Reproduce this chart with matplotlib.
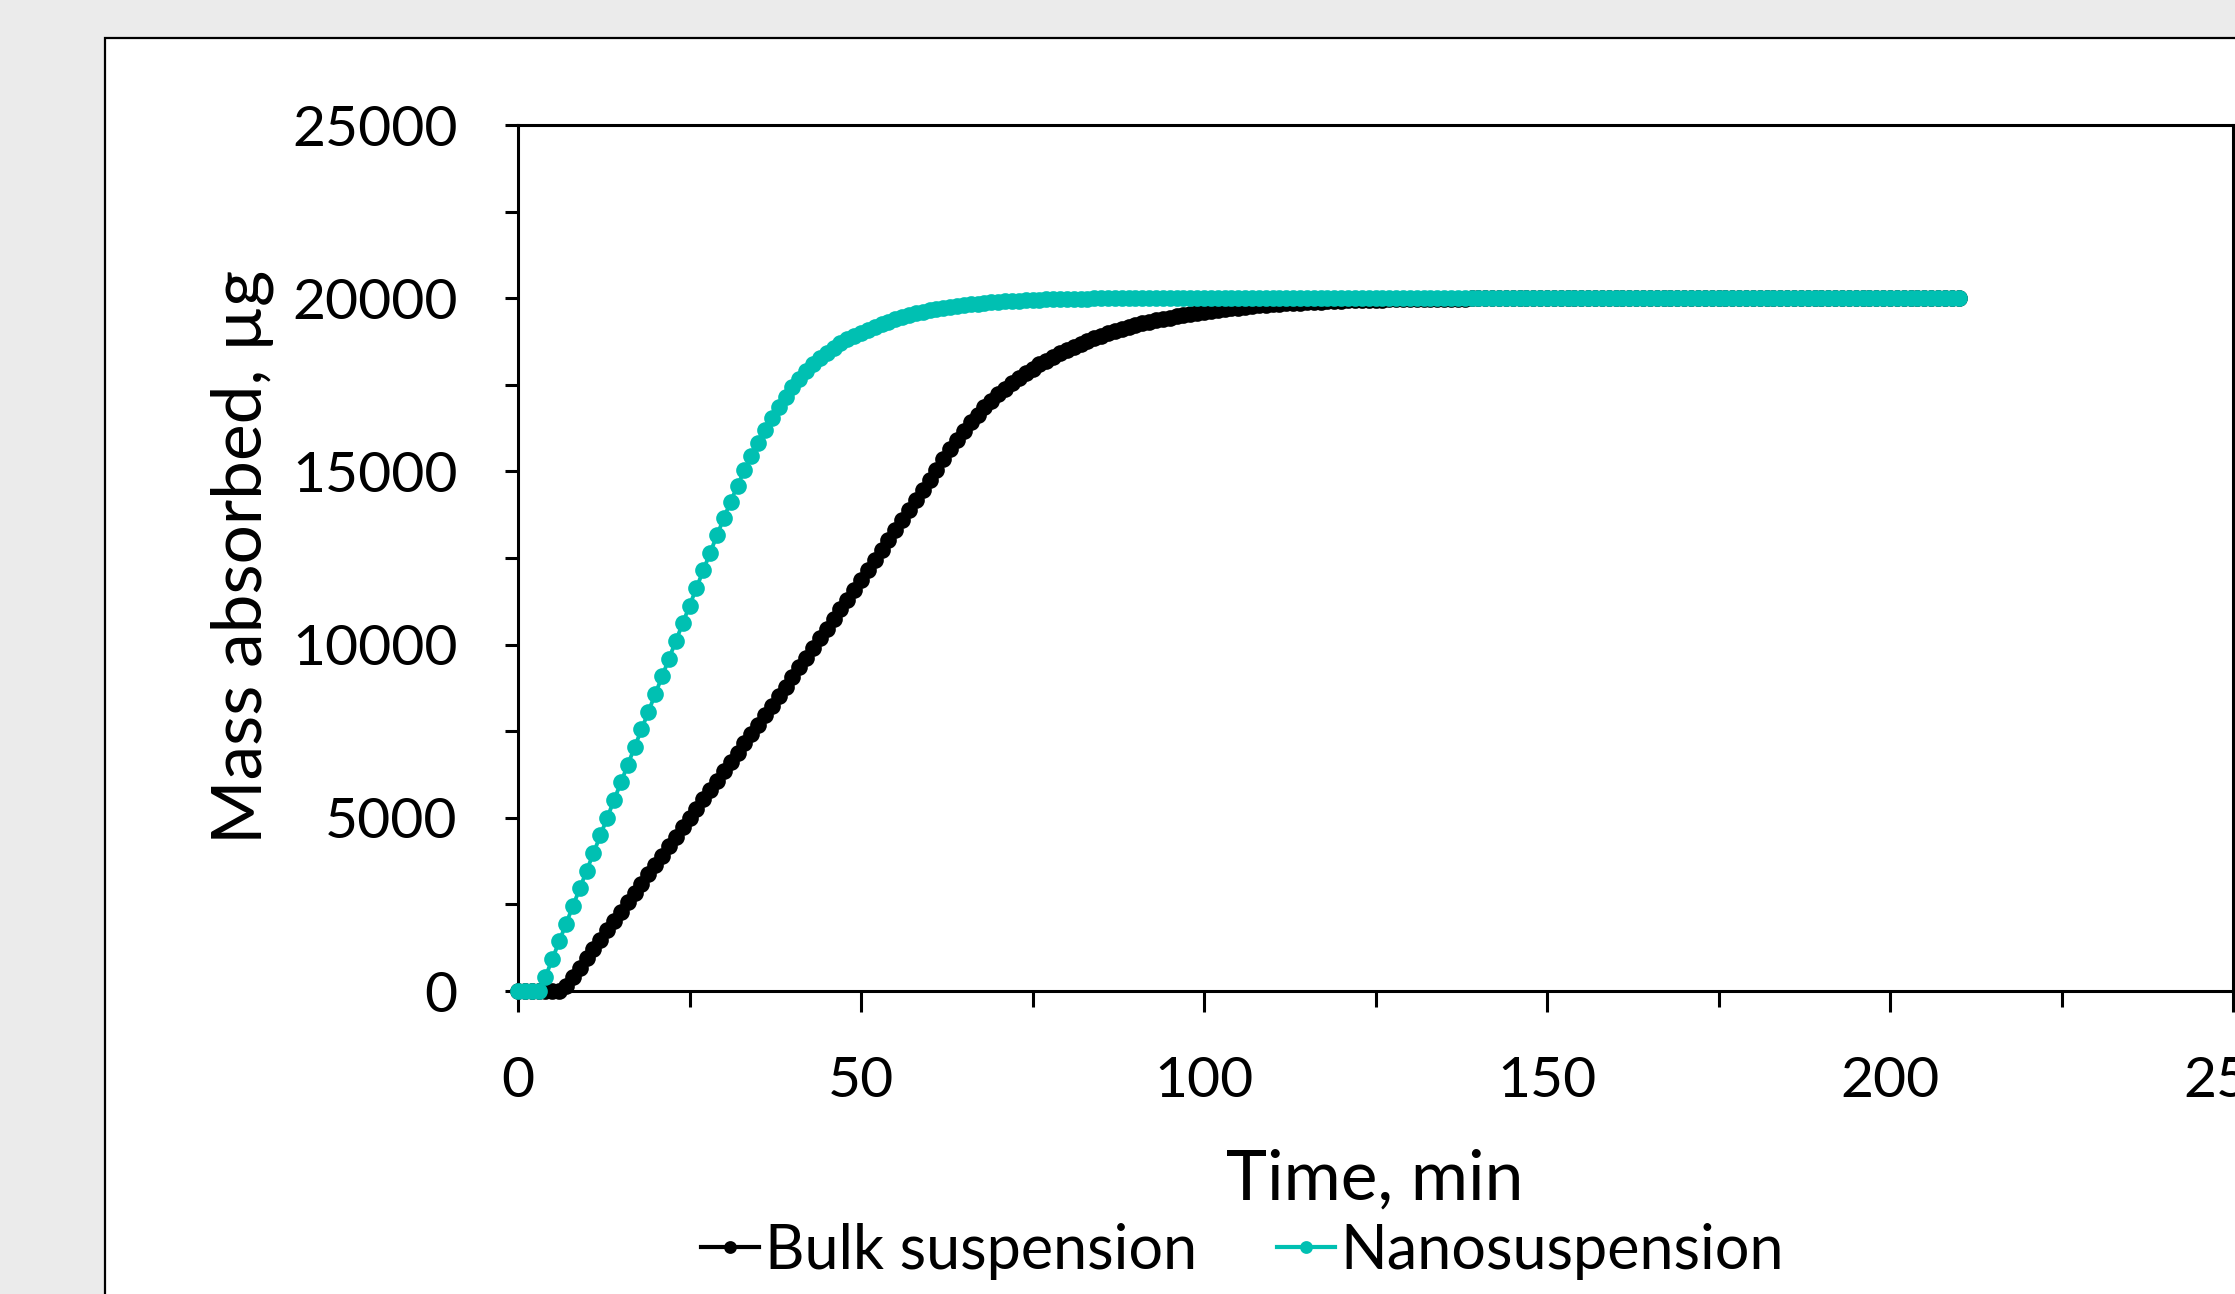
import numpy as np
import matplotlib
matplotlib.use('Agg')
import matplotlib.pyplot as plt
from matplotlib.patches import Rectangle
from matplotlib.lines import Line2D
from matplotlib.ticker import MultipleLocator

plt.rcParams['font.family'] = ['Lato', 'DejaVu Sans']

# ── Datos (lectura de la figura, 1 punto por minuto) ─────────────────────────
time_min = np.arange(0, 211)

nano_ug = [
    0, 0, 0, 0, 410, 920, 1430, 1940, 2450, 2960, 3470,
    3980, 4490, 5000, 5510, 6020, 6530, 7040, 7550, 8060, 8570,
    9080, 9590, 10100, 10610, 11120, 11630, 12140, 12650, 13150, 13650,
    14130, 14590, 15030, 15440, 15830, 16200, 16550, 16870, 17160, 17430,
    17670, 17890, 18090, 18270, 18430, 18570, 18700, 18810, 18910, 19000,
    19090, 19170, 19250, 19320, 19390, 19450, 19510, 19560, 19610, 19650,
    19690, 19720, 19750, 19780, 19800, 19820, 19840, 19860, 19880, 19900,
    19910, 19920, 19930, 19940, 19950, 19960, 19965, 19970, 19975, 19980,
    19985, 19988, 19990, 19992, 19994, 19995, 19996, 19997, 19998, 19999,
    20000, 20000, 20000, 20000, 20000, 20000, 20000, 20000, 20000, 20000,
    20000, 20000, 20000, 20000, 20000, 20000, 20000, 20000, 20000, 20000,
    20000, 20000, 20000, 20000, 20000, 20000, 20000, 20000, 20000, 20000,
    20000, 20000, 20000, 20000, 20000, 20000, 20000, 20000, 20000, 20000,
    20000, 20000, 20000, 20000, 20000, 20000, 20000, 20000, 20000, 20000,
    20000, 20000, 20000, 20000, 20000, 20000, 20000, 20000, 20000, 20000,
    20000, 20000, 20000, 20000, 20000, 20000, 20000, 20000, 20000, 20000,
    20000, 20000, 20000, 20000, 20000, 20000, 20000, 20000, 20000, 20000,
    20000, 20000, 20000, 20000, 20000, 20000, 20000, 20000, 20000, 20000,
    20000, 20000, 20000, 20000, 20000, 20000, 20000, 20000, 20000, 20000,
    20000, 20000, 20000, 20000, 20000, 20000, 20000, 20000, 20000, 20000,
    20000, 20000, 20000, 20000, 20000, 20000, 20000, 20000, 20000, 20000,
]

bulk_ug = [
    0, 0, 0, 0, 0, 0, 0, 130, 400, 670, 940,
    1210, 1480, 1750, 2020, 2290, 2560, 2830, 3100, 3370, 3640,
    3910, 4180, 4450, 4720, 4990, 5260, 5530, 5800, 6070, 6340,
    6610, 6880, 7150, 7420, 7690, 7965, 8240, 8515, 8790, 9065,
    9340, 9620, 9900, 10180, 10460, 10740, 11020, 11300, 11585, 11870,
    12155, 12440, 12730, 13020, 13310, 13600, 13890, 14180, 14470, 14760,
    15050, 15350, 15640, 15920, 16180, 16420, 16640, 16850, 17040, 17220,
    17390, 17550, 17700, 17840, 17970, 18090, 18200, 18310, 18410, 18510,
    18600, 18690, 18770, 18850, 18920, 18990, 19050, 19110, 19170, 19220,
    19270, 19320, 19360, 19400, 19440, 19480, 19510, 19540, 19570, 19600,
    19630, 19660, 19685, 19710, 19730, 19750, 19770, 19790, 19805, 19820,
    19835, 19850, 19860, 19870, 19880, 19890, 19900, 19910, 19918, 19926,
    19934, 19940, 19946, 19952, 19957, 19962, 19966, 19970, 19973, 19976,
    19979, 19981, 19983, 19985, 19987, 19988, 19990, 19991, 19992, 19993,
    19994, 19995, 19996, 19997, 19997, 19998, 19998, 19999, 19999, 20000,
    20000, 20000, 20000, 20000, 20000, 20000, 20000, 20000, 20000, 20000,
    20000, 20000, 20000, 20000, 20000, 20000, 20000, 20000, 20000, 20000,
    20000, 20000, 20000, 20000, 20000, 20000, 20000, 20000, 20000, 20000,
    20000, 20000, 20000, 20000, 20000, 20000, 20000, 20000, 20000, 20000,
    20000, 20000, 20000, 20000, 20000, 20000, 20000, 20000, 20000, 20000,
    20000, 20000, 20000, 20000, 20000, 20000, 20000, 20000, 20000, 20000,
]

series_labels = ['Bulk suspension', 'Nanosuspension']
series_colors = ['#000000', '#00C0B2']

# ── Figura ───────────────────────────────────────────────────────────────────
W, H = 2235, 1294
fig = plt.figure(figsize=(W / 200, H / 200), dpi=200, facecolor='#ebebeb')

# recuadro blanco del área del gráfico (se sale por la derecha y por abajo)
fig.patches.append(Rectangle((105 / W, -0.05), 1.0, 1.05 - 38 / H,
                             transform=fig.transFigure, facecolor='white',
                             edgecolor='black', linewidth=0.8, zorder=-5))

ax = fig.add_axes([518 / W, 1 - 991 / H, (2233 - 518) / W, (991 - 125) / H])
ax.set_zorder(2)
ax.set_facecolor('white')

ax.plot(time_min, bulk_ug, color=series_colors[0], marker='o', markersize=5.0,
        linewidth=1.4, clip_on=False, zorder=3)
ax.plot(time_min, nano_ug, color=series_colors[1], marker='o', markersize=5.0,
        linewidth=1.4, clip_on=False, zorder=4)

ax.set_xlim(0, 250)
ax.set_ylim(0, 25000)
ax.xaxis.set_major_locator(MultipleLocator(50))
ax.xaxis.set_minor_locator(MultipleLocator(25))
ax.yaxis.set_major_locator(MultipleLocator(5000))
ax.yaxis.set_minor_locator(MultipleLocator(2500))

for spine in ax.spines.values():
    spine.set_linewidth(1.1)
ax.tick_params(axis='x', which='major', direction='out', length=7.5, width=1.1,
               labelsize=20.5, pad=16)
ax.tick_params(axis='x', which='minor', direction='out', length=5.8, width=1.1)
ax.tick_params(axis='y', which='both', direction='out', length=4.7, width=1.1)
ax.tick_params(axis='y', which='major', labelsize=20.5, pad=17)

fig.text(1375 / W, 1 - 1200 / H, 'Time, min', fontsize=25,
         ha='center', va='baseline')
fig.text(261 / W, 1 - 557 / H, 'Mass absorbed, µg', fontsize=25, rotation=90,
         rotation_mode='anchor', ha='center', va='baseline')

handles = [Line2D([], [], color=c, marker='o', markersize=3.6, linewidth=1.5)
           for c in series_colors]
fig.legend(handles, series_labels, loc='center', bbox_to_anchor=(0.556, 0.033),
           ncol=2, frameon=False, fontsize=22, handlelength=0.95,
           handletextpad=0.1, columnspacing=1.3, borderaxespad=0)

fig.savefig('out.png', dpi=200, facecolor=fig.get_facecolor())
